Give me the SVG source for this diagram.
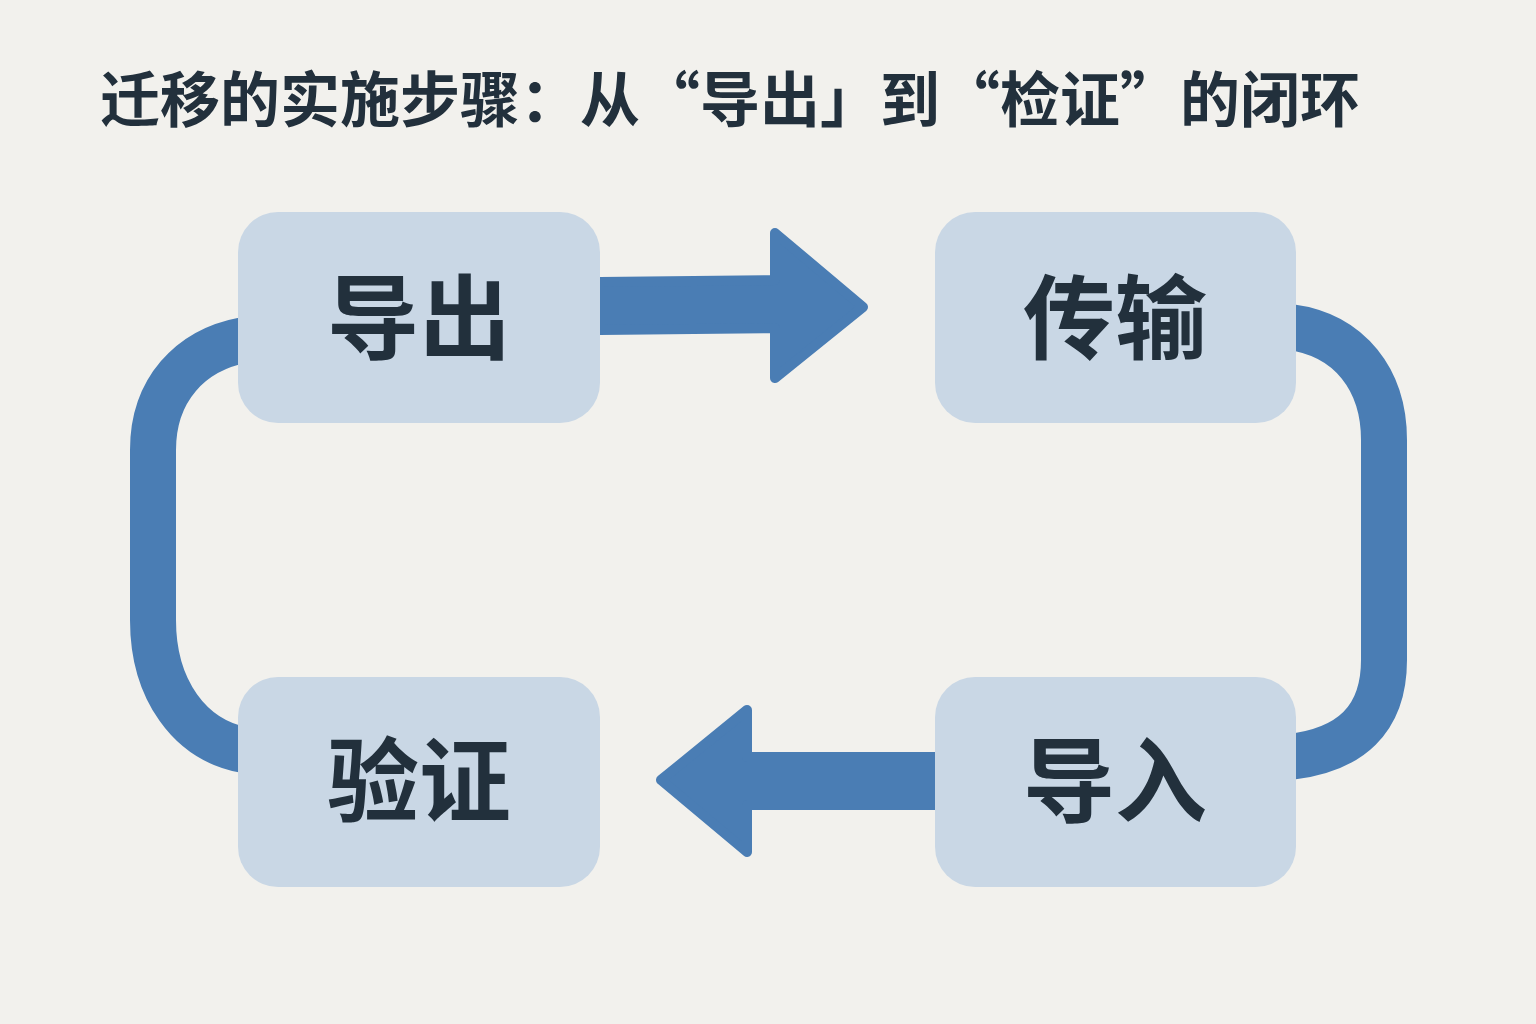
<svg xmlns="http://www.w3.org/2000/svg" width="1536" height="1024" viewBox="0 0 1536 1024">
<style>
.n{fill:#c9d7e5}
.t{font-family:"Noto Sans CJK SC","Noto Sans",sans-serif;font-weight:700;fill:#22303c}
.lbl{font-size:92px;text-anchor:middle}
.c{fill:none;stroke:#4a7db4;stroke-width:46}
.a{fill:#4a7db4;stroke:#4a7db4;stroke-width:10;stroke-linejoin:round}
</style>
<rect width="1536" height="1024" fill="#f2f1ed"/>
<text class="t" x="100" y="122" font-size="60">迁移的实施步骤：从“导出」到“检证”的闭环</text>
<g id="connectors">
<path class="c" d="M1290,327 C1350,335 1384,380 1384,440 L1384,660 C1384,720 1350,750 1290,757"/>
<path class="c" d="M244,340 C190,350 153,390 153,450 L153,620 C153,690 190,740 244,750"/>
<path class="a" d="M600,282 L775,280 L775,233 L863,307 L775,378 L775,328 L600,330 Z"/>
<path class="a" d="M935,757 L747,757 L747,710 L661,780 L747,852 L747,805 L935,805 Z"/>
</g>
<g id="n1"><rect class="n" x="238" y="212" width="362" height="211" rx="40"/><text class="t lbl" x="419" y="352">导出</text></g>
<g id="n2"><rect class="n" x="935" y="212" width="361" height="211" rx="40"/><text class="t lbl" x="1115" y="352">传输</text></g>
<g id="n3"><rect class="n" x="935" y="677" width="361" height="210" rx="40"/><text class="t lbl" x="1115" y="815">导入</text></g>
<g id="n4"><rect class="n" x="238" y="677" width="362" height="210" rx="40"/><text class="t lbl" x="419" y="815">验证</text></g>
</svg>
